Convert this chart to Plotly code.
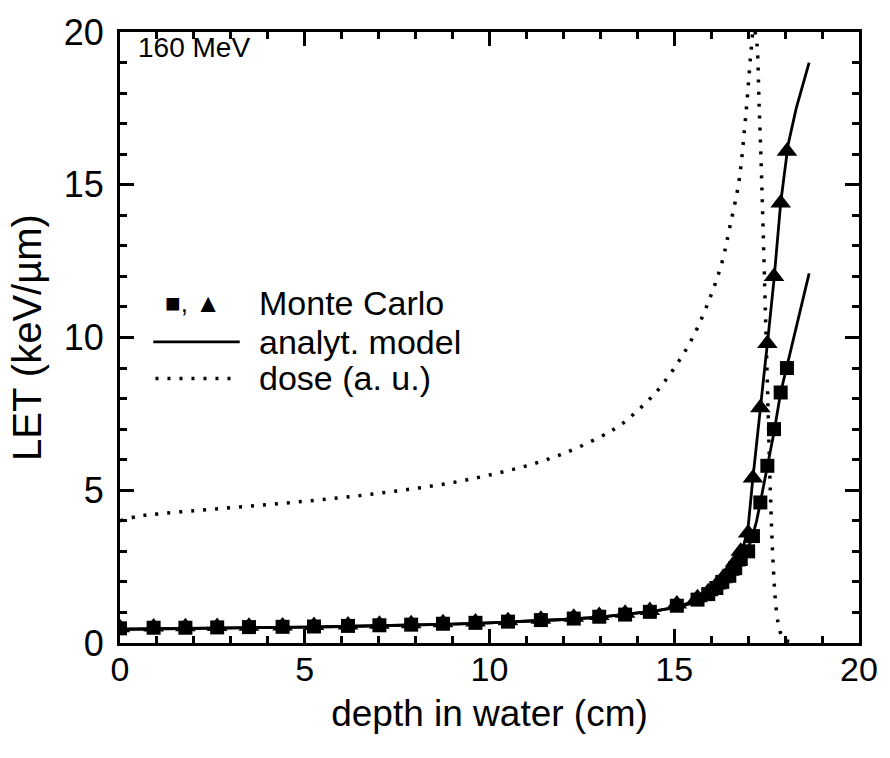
import plotly.graph_objects as go

# Monte Carlo depths (cm)
mc_x = [0, 0.91, 1.77, 2.63, 3.49, 4.4, 5.25, 6.17, 7.02, 7.88, 8.74, 9.62, 10.5,
        11.39, 12.28, 12.97, 13.67, 14.34, 15.07, 15.63, 15.92, 16.14, 16.3, 16.49,
        16.65, 16.8, 17.0, 17.13, 17.33, 17.52, 17.7, 17.88, 18.05]
# Monte Carlo LET (triangles, higher curve)
mc_tri = [0.5, 0.52, 0.53, 0.54, 0.55, 0.56, 0.57, 0.59, 0.61, 0.63, 0.66, 0.69, 0.73,
          0.78, 0.84, 0.9, 0.97, 1.06, 1.28, 1.48, 1.68, 1.9, 2.1, 2.35, 2.65, 3.0,
          3.6, 5.4, 7.7, 9.8, 12.0, 14.4, 16.1]
# Monte Carlo LET (squares, lower curve)
mc_sq = [0.48, 0.5, 0.5, 0.51, 0.52, 0.53, 0.54, 0.56, 0.58, 0.6, 0.63, 0.66, 0.7,
         0.75, 0.8, 0.86, 0.93, 1.02, 1.22, 1.42, 1.6, 1.8, 2.0, 2.2, 2.45, 2.75,
         3.0, 3.5, 4.6, 5.8, 7.0, 8.2, 9.0]

# analytical model
an_x = [0, 1, 2, 3, 4, 5, 6, 7, 8, 9, 10, 11, 12, 13, 14, 14.5, 15, 15.5, 16, 16.3,
        16.5, 16.7, 16.88, 17.0, 17.12, 17.23, 17.33, 17.43, 17.53, 17.7, 17.88, 18.08,
        18.3, 18.5, 18.65]
an_hi = [0.45, 0.46, 0.47, 0.49, 0.5, 0.52, 0.54, 0.56, 0.59, 0.62, 0.66, 0.71, 0.77,
         0.85, 0.97, 1.05, 1.17, 1.35, 1.65, 1.95, 2.25, 2.7, 3.2, 3.8, 5.3, 6.6, 7.8,
         8.8, 9.9, 11.9, 14.4, 16.3, 17.5, 18.4, 19.0]
an_lo = [0.45, 0.46, 0.47, 0.49, 0.5, 0.52, 0.54, 0.56, 0.59, 0.62, 0.66, 0.71, 0.77,
         0.85, 0.97, 1.05, 1.15, 1.3, 1.58, 1.85, 2.1, 2.5, 2.85, 3.1, 3.5, 4.0, 4.6,
         5.2, 5.8, 6.9, 8.2, 9.2, 10.4, 11.4, 12.1]

# dose (arbitrary units)
dose_x = [0, 0.5, 1, 2, 3, 4, 5, 6, 7, 8, 9, 10, 11, 12, 13, 13.5, 14, 14.5, 15, 15.5,
          16, 16.3, 16.5, 16.75, 16.9, 17.0, 17.08, 17.15, 17.22, 17.3, 17.37, 17.44,
          17.52, 17.6, 17.68, 17.77, 17.87, 18.0, 18.3]
dose_y = [4.0, 4.15, 4.22, 4.33, 4.43, 4.53, 4.64, 4.76, 4.9, 5.06, 5.25, 5.5, 5.8,
          6.2, 6.75, 7.1, 7.6, 8.2, 9.0, 10.0, 11.4, 12.5, 13.6, 15.1, 16.8, 18.2,
          19.4, 20.1, 19.8, 17.5, 15.0, 12.0, 8.5, 5.0, 2.5, 1.0, 0.35, 0.1, 0.02]

x_ticks = [0, 5, 10, 15, 20]
y_ticks = [0, 5, 10, 15, 20]

FONT = "Liberation Sans, Arial, sans-serif"

fig = go.Figure()
fig.add_trace(go.Scatter(x=dose_x, y=dose_y, mode="lines",
                         line=dict(color="black", width=3.5, dash="3px,9px", shape="spline"),
                         showlegend=False))
fig.add_trace(go.Scatter(x=an_x, y=an_hi, mode="lines",
                         line=dict(color="black", width=2.8), showlegend=False))
fig.add_trace(go.Scatter(x=an_x, y=an_lo, mode="lines",
                         line=dict(color="black", width=2.8), showlegend=False))
fig.add_trace(go.Scatter(x=mc_x, y=mc_sq, mode="markers",
                         marker=dict(symbol="square", size=14, color="black"),
                         showlegend=False))
fig.add_trace(go.Scatter(x=mc_x, y=mc_tri, mode="markers",
                         marker=dict(symbol="triangle-up", size=18, color="black"),
                         showlegend=False))

axis_common = dict(
    showline=True, linecolor="black", linewidth=3, mirror="ticks",
    ticks="inside", ticklen=14, tickwidth=2.5, tickcolor="black",
    showgrid=False, zeroline=False,
    minor=dict(ticks="inside", ticklen=7, tickwidth=2.5, tickcolor="black", dtick=1, showgrid=False),
)
fig.update_xaxes(range=[0, 20], tickvals=x_ticks, ticktext=[str(v) for v in x_ticks],
                 tickfont=dict(family=FONT, size=34, color="black"),
                 ticklabelstandoff=-6,
                 title=dict(text="depth in water (cm)", font=dict(family=FONT, size=37, color="black"),
                            standoff=14),
                 **axis_common)
fig.update_yaxes(range=[0, 20], tickvals=y_ticks, ticktext=[str(v) for v in y_ticks],
                 tickfont=dict(family=FONT, size=36, color="black"),
                 ticklabelstandoff=6,
                 title=dict(text="LET (keV/µm)", font=dict(family=FONT, size=40, color="black"),
                            standoff=10),
                 **axis_common)

ann = [
    dict(x=0.022, y=0.975, text="160 MeV", size=28, xanchor="left"),
    dict(x=0.14, y=0.556, text="■, ▲", size=26, xanchor="right"),
    dict(x=0.185, y=0.556, text="Monte Carlo", size=34, xanchor="left"),
    dict(x=0.185, y=0.493, text="analyt. model", size=34, xanchor="left"),
    dict(x=0.185, y=0.433, text="dose (a. u.)", size=34, xanchor="left"),
]
annotations = []
for a in ann:
    annotations.append(dict(xref="paper", yref="paper", showarrow=False,
                            xanchor=a["xanchor"], yanchor="middle",
                            font=dict(family=FONT, color="black", size=a["size"]),
                            x=a["x"], y=a["y"], text=a["text"]))

shapes = [
    dict(type="line", xref="paper", yref="paper", x0=0.045, x1=0.162, y0=0.493, y1=0.493,
         line=dict(color="black", width=2.8)),
    dict(type="line", xref="paper", yref="paper", x0=0.048, x1=0.155, y0=0.433, y1=0.433,
         line=dict(color="black", width=3.5, dash="3px,9px")),
]

fig.update_layout(
    width=890, height=758,
    margin=dict(l=120, r=24, t=23, b=115),
    paper_bgcolor="white", plot_bgcolor="white",
    annotations=annotations, shapes=shapes,
    font=dict(family=FONT, color="black"),
)

fig.write_html("out.html")
